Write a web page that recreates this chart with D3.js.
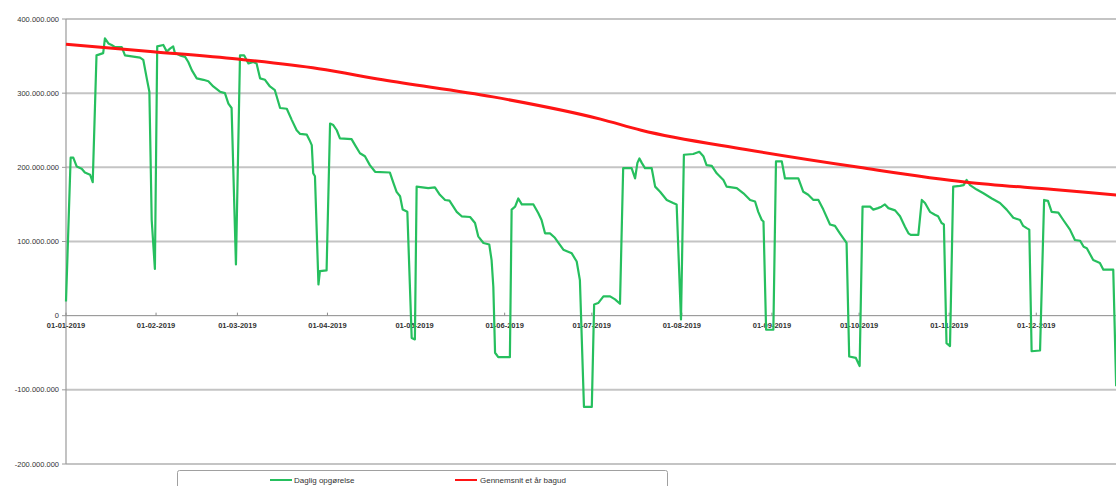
<!DOCTYPE html>
<html><head><meta charset="utf-8">
<script src="https://cdn.jsdelivr.net/npm/d3@7"></script>
<style>body{margin:0;background:#fff}svg{display:block}text{font-family:"Liberation Sans",Arial,sans-serif}</style>
</head><body><svg id="c" width="1116" height="486"></svg>
<script>
// Month-start day offsets and x tick labels
const monthDays = [0,31,59,90,120,151,181,212,243,273,304,334];
const monthLabels = ["01-01-2019","01-02-2019","01-03-2019","01-04-2019","01-05-2019","01-06-2019","01-07-2019","01-08-2019","01-09-2019","01-10-2019","01-11-2019","01-12-2019"];
// y ticks (values) and labels
const yTicks = [400e6,300e6,200e6,100e6,0,-100e6,-200e6];
const yLabels = ["400.000.000","300.000.000","200.000.000","100.000.000","0","-100.000.000","-200.000.000"];
// Series: "Daglig opgørelse" (day offset, value in millions)
const greenDays = [0,1.6,2.5,3.7,5.4,6.5,8.3,9.2,10.5,12.8,13.4,14.6,15.7,16.9,19.2,20.3,25.5,26.6,27.8,28.7,29.5,30.6,31.4,33.5,34.7,35.8,36.9,37.5,39.2,41,42.1,43.3,45,47.3,49,50.7,53,54.7,55.9,57,58.5,59.9,61.3,62.8,64.5,65.6,66.8,68.5,70.2,71.9,73.7,76,77.7,79.4,80.6,82.9,83.8,84.6,85.1,85.7,86.9,87.4,89.7,90.9,92,93.2,94.3,98.3,99.5,101.2,102.9,104.6,106.4,111.5,112.7,113.8,115,115.9,117.5,119,120.1,120.7,124.7,127,128.7,130.5,132,134.5,136.2,139.1,140.8,141.9,143.7,145.7,146.5,147.1,147.7,148.8,152.8,153.4,154.6,155.7,156.9,160.9,162.6,163.7,164.9,166.6,168.3,171.2,174.1,175.8,176.9,178.3,181,181.8,183.2,185,187.3,189,190.7,191.8,194.7,195.9,196.7,197.4,198.2,199.3,201.6,202.8,204.5,206.8,209,210.2,211.7,212.7,215.9,218,219.4,220.5,222.3,224,226.3,227.4,230.9,233.2,235.5,237.2,238.3,239.5,240.1,241,243.5,244.4,246.4,247.5,252.1,253.8,255.5,257.3,259,260.7,263,264.7,266.4,268.7,269.6,271.9,273.2,274.2,276.8,277.9,279.5,280.7,281.9,283.1,285.4,287.1,288.8,290,290.8,293.4,294.6,295.7,297.4,299.1,300.2,301.4,302.2,303.1,304.3,305.4,307.7,309,310,311.2,313.5,315.8,318.7,321.5,323.8,326.1,328.4,329.5,330.7,331.6,332.4,335.3,336.7,338,339.3,341.6,343.3,345.6,347.3,349.1,350.3,351.4,353.6,355.9,357.1,360.5,361.5];
const greenValues = [19,213,213,201,198,193,190,180,351,354,374,367,365,362,362,351,348,345,320,302,129,63,363,365,356,360,363,354,351,349,342,331,320,318,316,309,302,300,286,280,69,351,351,340,342,340,320,318,309,304,280,279,264,250,245,244,237,230,192,188,42,60,61,259,257,250,239,238,230,219,215,203,194,193,179,167,161,143,140,-30,-32,174,172,173,163,156,155,140,134,133,125,107,98,96,75,39,-50,-56,-56,143,147,158,150,150,138,129,111,111,105,89,84,73,48,-123,-123,15,17,26,26,22,16,199,199,185,206,212,206,199,199,174,167,156,152,150,-5,217,218,221,215,203,202,192,183,174,172,165,156,154,140,129,127,-19,-19,208,208,185,185,167,163,156,156,143,123,121,111,98,-55,-57,-68,147,147,143,145,147,150,145,142,134,120,111,109,109,156,152,140,136,134,125,123,-37,-41,174,175,176,183,176,170,165,158,152,143,132,129,121,118,116,-48,-47,156,155,140,139,129,116,102,101,93,91,75,71,62,62,-95];
// Series: "Gennemsnit et år bagud"
const redDays = [0,30,59,87,109,147,184,198,234,273,310,340,364];
const redValues = [366,356,346,333,318,295,265,250,224,200,180,170,162];
const seriesNames = ["Daglig opgørelse","Gennemsnit et år bagud"];
const seriesColors = ["#26bf5e","#ff1414"];

const svg = d3.select("#c");
const x = d3.scaleLinear().domain([0,364]).range([66,66+364*2.905]);
const y = d3.scaleLinear().domain([-200e6,400e6]).range([464,19]);

// gridlines
svg.append("g").selectAll("line").data(yTicks.filter(v=>v!==0)).join("line")
  .attr("x1",66).attr("x2",1116).attr("y1",d=>y(d)).attr("y2",d=>y(d))
  .attr("stroke","#c4c4c4").attr("stroke-width",2);
// zero line
svg.append("line").attr("x1",66).attr("x2",1116).attr("y1",y(0)).attr("y2",y(0))
  .attr("stroke","#8a8a8a").attr("stroke-width",1);
// y axis line
svg.append("line").attr("x1",66).attr("x2",66).attr("y1",y(400e6)).attr("y2",y(-200e6))
  .attr("stroke","#9a9a9a").attr("stroke-width",1.2);
// y tick marks
svg.append("g").selectAll("line").data(yTicks).join("line")
  .attr("x1",62).attr("x2",66).attr("y1",d=>y(d)).attr("y2",d=>y(d)).attr("stroke","#9a9a9a");
// y labels
svg.append("g").selectAll("text").data(yTicks).join("text")
  .attr("x",59).attr("y",d=>y(d)).attr("dy","0.35em").attr("text-anchor","end")
  .attr("font-size",7.5).attr("fill","#333").text((d,i)=>yLabels[i]);
// x ticks
svg.append("g").selectAll("line").data(monthDays).join("line")
  .attr("x1",d=>x(d)).attr("x2",d=>x(d)).attr("y1",y(0)-3).attr("y2",y(0))
  .attr("stroke","#8a8a8a");
svg.append("g").selectAll("text").data(monthDays).join("text")
  .attr("x",d=>x(d)).attr("y",y(0)+12).attr("text-anchor","middle")
  .attr("font-size",7.5).attr("font-weight","bold").attr("fill","#333").text((d,i)=>monthLabels[i]);

const line = d3.line().x(d=>x(d[0])).y(d=>y(d[1]*1e6));
svg.append("path").datum(greenDays.map((d,i)=>[d,greenValues[i]]))
  .attr("d",line).attr("fill","none").attr("stroke",seriesColors[0]).attr("stroke-width",2.2).attr("stroke-linejoin","round");
svg.append("path").datum(redDays.map((d,i)=>[d,redValues[i]]))
  .attr("d",line.curve(d3.curveMonotoneX)).attr("fill","none").attr("stroke",seriesColors[1]).attr("stroke-width",3);

// legend
svg.append("rect").attr("x",177.5).attr("y",470.5).attr("width",490).attr("height",30).attr("rx",2)
  .attr("fill","#fff").attr("stroke","#a0a0a0");
const leg = [[270,294],[455,480]];
leg.forEach((p,i)=>{
  svg.append("line").attr("x1",p[0]).attr("x2",p[0]+22).attr("y1",480).attr("y2",480)
    .attr("stroke",seriesColors[i]).attr("stroke-width",2);
  svg.append("text").attr("x",p[1]).attr("y",480).attr("dy","0.35em").attr("font-size",8)
    .attr("fill","#333").text(seriesNames[i]);
});
</script></body></html>
